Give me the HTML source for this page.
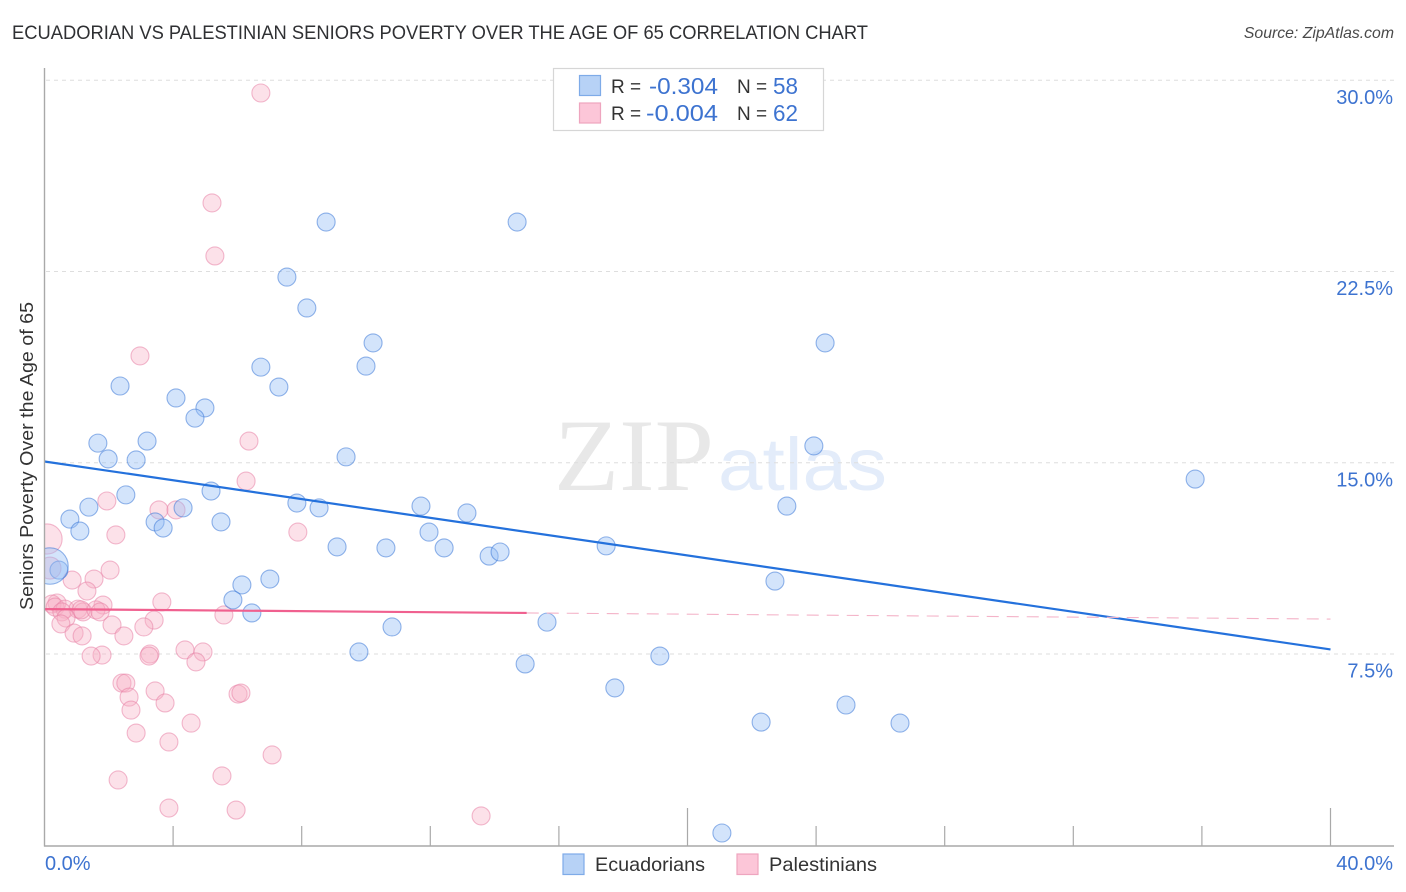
<!DOCTYPE html>
<html lang="en">
<head>
<meta charset="utf-8">
<title>Ecuadorian vs Palestinian Seniors Poverty Over the Age of 65 Correlation Chart</title>
<style>
html,body{margin:0;padding:0;background:#fff;width:1406px;height:892px;overflow:hidden}
svg{display:block;font-family:"Liberation Sans",sans-serif}
</style>
</head>
<body>
<svg id="chart" width="1406" height="892" viewBox="0 0 1406 892" xmlns="http://www.w3.org/2000/svg">
  <defs><clipPath id="plot-clip"><rect x="45" y="60" width="1349" height="786"/></clipPath></defs>
  <text x="12" y="39" font-size="19" fill="#2f3033" textLength="856" lengthAdjust="spacingAndGlyphs">ECUADORIAN VS PALESTINIAN SENIORS POVERTY OVER THE AGE OF 65 CORRELATION CHART</text>
  <text x="1394" y="38" font-size="15.8" font-style="italic" fill="#4a4a4a" text-anchor="end">Source: ZipAtlas.com</text>
  <g>
    <text x="554" y="490" font-family="'Liberation Serif',serif" font-size="103" fill="#e8e8e8" textLength="160" lengthAdjust="spacingAndGlyphs">ZIP</text>
    <text x="718" y="490" font-size="74" fill="#e3ecfa" textLength="169" lengthAdjust="spacingAndGlyphs">atlas</text>
  </g>
  <g id="grid"></g>
  <g id="points" clip-path="url(#plot-clip)"></g>
  <g id="trends"></g>
  <g id="axes"></g>
  <text transform="translate(33,456) rotate(-90)" font-size="18.5" fill="#333" text-anchor="middle" textLength="308" lengthAdjust="spacingAndGlyphs">Seniors Poverty Over the Age of 65</text>

  <g>
    <rect x="553.5" y="68.5" width="270" height="62" fill="#fff" stroke="#d6d6d6" stroke-width="1.2"/>
    <rect x="579.5" y="75.5" width="21" height="20" fill="#b7d2f6" stroke="#7eabe8" stroke-width="1.2"/>
    <rect x="579.5" y="103" width="21" height="20" fill="#fcc6d8" stroke="#eea5bf" stroke-width="1.2"/>
    <text x="611" y="93" font-size="19" fill="#333">R =</text>
    <text x="718" y="94" font-size="23" fill="#3d73d0" text-anchor="end" textLength="69" lengthAdjust="spacingAndGlyphs">-0.304</text>
    <text x="737" y="93" font-size="19" fill="#333">N =</text>
    <text x="773" y="94" font-size="23" fill="#3d73d0" textLength="25" lengthAdjust="spacingAndGlyphs">58</text>
    <text x="611" y="120" font-size="19" fill="#333">R =</text>
    <text x="718" y="121" font-size="23" fill="#3d73d0" text-anchor="end" textLength="72" lengthAdjust="spacingAndGlyphs">-0.004</text>
    <text x="737" y="120" font-size="19" fill="#333">N =</text>
    <text x="773" y="121" font-size="23" fill="#3d73d0" textLength="25" lengthAdjust="spacingAndGlyphs">62</text>
  </g>

  <g>
    <rect x="563" y="854" width="21" height="20.5" fill="#b7d2f6" stroke="#7eabe8" stroke-width="1.2"/>
    <text x="595" y="871" font-size="19.5" fill="#333" textLength="110" lengthAdjust="spacingAndGlyphs">Ecuadorians</text>
    <rect x="737" y="854" width="21" height="20.5" fill="#fcc6d8" stroke="#eea5bf" stroke-width="1.2"/>
    <text x="769" y="871" font-size="19.5" fill="#333" textLength="108" lengthAdjust="spacingAndGlyphs">Palestinians</text>
  </g>
</svg>
<script>
const ecuadorianX = [8.76,14.70,7.54,8.16,10.22,24.28,10.00,6.73,7.29,2.35,4.09,4.99,4.68,3.19,1.66,23.93,1.98,2.85,9.38,35.79,5.18,2.53,1.38,7.85,8.54,11.71,13.14,23.09,0.79,3.44,4.31,5.49,3.69,1.10,11.96,9.10,10.62,12.43,17.47,13.83,14.17,0.45,6.14,7.01,22.72,5.86,6.45,10.81,15.63,9.78,19.14,14.95,17.74,24.93,22.29,26.61,21.07,0.17];
const ecuadorianY = [24.44,24.44,22.28,21.07,19.70,19.70,18.79,18.75,17.97,18.01,17.54,17.15,16.75,15.85,15.77,15.66,15.15,15.11,15.23,14.36,13.89,13.74,13.26,13.42,13.23,13.30,13.03,13.30,12.79,12.68,13.23,12.68,12.44,12.32,12.28,11.70,11.66,11.66,11.74,11.34,11.50,10.79,10.21,10.44,10.36,9.62,9.11,8.56,8.75,7.58,7.42,7.11,6.17,5.50,4.83,4.79,0.48,10.95];
const palestinianX = [6.73,5.21,5.30,2.97,6.36,6.27,1.94,3.56,4.09,7.88,2.22,2.04,0.86,1.54,1.32,3.65,1.82,0.39,0.23,0.33,0.64,1.04,0.54,1.20,1.14,1.60,1.73,0.67,5.58,3.41,2.10,3.09,0.51,0.92,1.17,2.47,4.37,4.93,1.79,1.45,3.28,3.25,4.71,2.41,2.53,3.44,6.02,6.11,2.63,3.75,2.69,4.56,2.85,3.87,7.08,5.52,2.29,3.87,5.96,13.58,0.08,0.17];
const palestinianY = [29.50,25.19,23.11,19.19,15.85,14.28,13.50,13.15,13.15,12.28,12.17,10.79,10.40,10.44,9.97,9.54,9.42,9.50,9.46,9.34,9.26,9.26,9.15,9.15,9.23,9.23,9.15,8.91,9.03,8.83,8.64,8.56,8.68,8.32,8.21,8.21,7.66,7.58,7.46,7.42,7.50,7.42,7.19,6.36,6.36,6.05,5.93,5.97,5.81,5.58,5.30,4.79,4.40,4.05,3.54,2.72,2.56,1.46,1.38,1.15,12.01,10.87];
/* Relative bubble weights: the last point of each series is a large aggregate */
const ecuadorianWeight = {57: 4.1};
const palestinianWeight = {60: 2.8, 61: 1.5};
const ecuadorianTrendX = [0, 40];
const ecuadorianTrendY = [15.05, 7.68];
const palestinianTrendX = [0, 15];
const palestinianTrendY = [9.26, 9.11];
const palestinianDashX = [15, 40];
const palestinianDashY = [9.11, 8.87];
const yTicks = [7.5, 15, 22.5, 30];
const yTickLabels = ["7.5%", "15.0%", "22.5%", "30.0%"];
const xTicks = [0, 4, 8, 12, 16, 20, 24, 28, 32, 36, 40];
const xEndLabels = ["0.0%", "40.0%"];

const NS = "http://www.w3.org/2000/svg";
const xScale = v => 44.5 + v * 32.15;
const yScale = v => 654 - (v - 7.5) * 25.5;

function make(tag, attrs, parent) {
  const el = document.createElementNS(NS, tag);
  for (const k in attrs) el.setAttribute(k, attrs[k]);
  parent.appendChild(el);
  return el;
}

const grid = document.getElementById("grid");
const axes = document.getElementById("axes");
const points = document.getElementById("points");
const trends = document.getElementById("trends");

yTicks.forEach((t, i) => {
  const line = make("line", {x1: 46, x2: 1394, y1: yScale(t), y2: yScale(t), stroke: "#dedede", "stroke-width": 1, "stroke-dasharray": "4 4"}, grid);
  
  
  const label = make("text", {x: 1393, y: yScale(t) + 23.5, "font-size": 20, fill: "#3d73d0", "text-anchor": "end"}, axes);
  label.textContent = yTickLabels[i];
  
  
});

const yAxisLine = make("line", {x1: 44.5, x2: 44.5, y1: 68, y2: 846.5, stroke: "#a9a9a9", "stroke-width": 1.4}, axes);


const xAxisLine = make("line", {x1: 44, x2: 1394, y1: 846, y2: 846, stroke: "#a9a9a9", "stroke-width": 1.4}, axes);



xTicks.forEach(t => {
  if (t === 0) return;
  const major = t === 20 || t === 40;
  const tick = make("line", {x1: xScale(t), x2: xScale(t), y1: major ? 808 : 826, y2: 846, stroke: "#a9a9a9", "stroke-width": 1.2}, axes);
  
  
});

const xStart = make("text", {x: 45, y: 870, "font-size": 20, fill: "#3d73d0"}, axes);
xStart.textContent = xEndLabels[0];


const xEnd = make("text", {x: 1393, y: 870, "font-size": 20, fill: "#3d73d0", "text-anchor": "end"}, axes);
xEnd.textContent = xEndLabels[1];



palestinianX.forEach((v, i) => {
  const r = 9 * Math.sqrt(palestinianWeight[i] || 1);
  const c = make("circle", {cx: xScale(v), cy: yScale(palestinianY[i]), r: r, fill: "rgba(248,175,198,0.38)", stroke: "rgba(232,130,165,0.55)", "stroke-width": 1.1}, points);
  
  
});
ecuadorianX.forEach((v, i) => {
  const r = 9 * Math.sqrt(ecuadorianWeight[i] || 1);
  const c = make("circle", {cx: xScale(v), cy: yScale(ecuadorianY[i]), r: r, fill: "rgba(150,190,245,0.42)", stroke: "rgba(60,120,215,0.55)", "stroke-width": 1.1}, points);
  
  
});

const blueTrend = make("line", {x1: xScale(ecuadorianTrendX[0]), y1: yScale(ecuadorianTrendY[0]), x2: xScale(ecuadorianTrendX[1]), y2: yScale(ecuadorianTrendY[1]), stroke: "#2471dc", "stroke-width": 2.2}, trends);


const pinkTrend = make("line", {x1: xScale(palestinianTrendX[0]), y1: yScale(palestinianTrendY[0]), x2: xScale(palestinianTrendX[1]), y2: yScale(palestinianTrendY[1]), stroke: "#f0608f", "stroke-width": 2.2}, trends);


const pinkDash = make("line", {x1: xScale(palestinianDashX[0]), y1: yScale(palestinianDashY[0]), x2: xScale(palestinianDashX[1]), y2: yScale(palestinianDashY[1]), stroke: "#f4b3c8", "stroke-width": 1.1, "stroke-dasharray": "12 8"}, trends);


</script>
</body>
</html>
